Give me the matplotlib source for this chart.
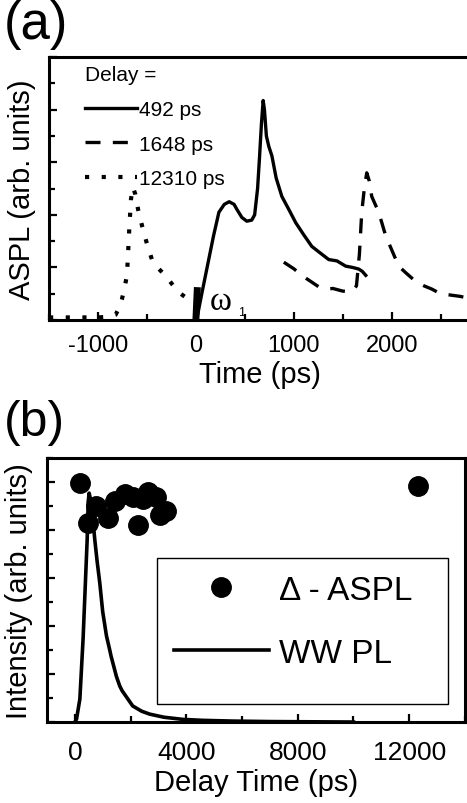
import matplotlib
matplotlib.use("Agg")
import matplotlib.pyplot as plt
from matplotlib.patches import Rectangle
from matplotlib.ticker import MultipleLocator, NullFormatter

plt.rcParams['font.family'] = ['Liberation Sans', 'DejaVu Sans']
plt.rcParams['axes.unicode_minus'] = False

# (a) ASPL traces for three delays
solid_x = [10, 60, 120, 180, 235, 290, 340, 390, 420, 470, 520, 570, 600, 630, 650, 670, 687,
           700, 720, 745, 776, 820, 878, 950, 1020, 1100, 1184, 1270, 1357, 1440, 1530, 1600,
           1663, 1700, 1735]
solid_y = [0.05, 1.0, 2.1, 3.2, 4.1, 4.4, 4.5, 4.4, 4.2, 3.9, 3.76, 3.8, 4.0, 5.0, 6.2, 7.5, 8.35,
           8.0, 7.0, 6.6, 6.25, 5.4, 4.7, 4.2, 3.7, 3.25, 2.8, 2.55, 2.3, 2.25, 2.05, 2.0,
           1.94, 1.85, 1.7]

dash_x = [898, 1000, 1100, 1184, 1260, 1327, 1400, 1500, 1592, 1640, 1670, 1694, 1720, 1745,
          1770, 1796, 1867, 1939, 2071, 2143, 2250, 2330, 2408, 2500, 2600, 2700, 2760]
dash_y = [2.2, 1.95, 1.65, 1.44, 1.25, 1.18, 1.2, 1.1, 1.08, 1.3, 2.5, 4.1, 5.0, 5.6,
          5.3, 4.7, 4.1, 3.2, 2.05, 1.8, 1.45, 1.3, 1.18, 1.0, 0.95, 0.9, 0.85]

dot_x = [-1500, -1400, -1300, -1200, -1100, -1000, -900, -820, -780, -755, -730, -704, -680,
         -663, -643, -620, -590, -551, -500, -449, -380, -306, -240, -173, -100, -41, 0]
dot_y = [0.1, 0.1, 0.1, 0.1, 0.1, 0.1, 0.12, 0.2, 0.5, 0.8, 1.2, 1.7, 3.5,
         4.6, 5.05, 4.8, 4.2, 3.6, 2.9, 2.3, 1.95, 1.67, 1.35, 1.05, 0.85, 0.73, 0.7]

pulse_x = [0, 15]
pulse_y = [0, 1.25]

delay_labels = ['492 ps', '1648 ps', '12310 ps']

# (b) delta-ASPL points and WW PL trace
aspl_x = [180, 477, 776, 1194, 1433, 1791, 2090, 2268, 2448, 2627, 2925, 3045, 3283, 12333]
aspl_y = [9.97, 8.3, 9.0, 8.5, 9.2, 9.5, 9.4, 8.2, 9.3, 9.6, 9.4, 8.65, 8.8, 9.86]

ww_x = [0, 60, 180, 297, 394, 442, 480, 513, 560, 620, 716, 800, 895, 1000, 1134, 1253, 1300,
        1492, 1612, 1700, 2077, 2400, 2686, 3200, 3880, 4600, 5670, 7000, 8500, 10000]
ww_y = [0, 0.12, 0.96, 3.5, 6.25, 7.6, 9.2, 9.55, 9.3, 8.8, 7.6, 6.7, 5.8, 4.6, 3.6, 3.0, 2.75,
        1.9, 1.5, 1.3, 0.67, 0.45, 0.33, 0.2, 0.11, 0.07, 0.04, 0.02, 0.01, 0.0]

fig = plt.figure(figsize=(4.67, 8.04), dpi=100)
ax1 = fig.add_axes([0.105, 0.6007, 0.9015, 0.327])
ax2 = fig.add_axes([0.1006, 0.1007, 0.895, 0.328])

for ax in (ax1, ax2):
    for sp in ax.spines.values():
        sp.set_linewidth(2.2)
    ax.tick_params(which='both', direction='in', width=1.6, labelsize=17, pad=10)
    ax.tick_params(which='major', length=6)
    ax.tick_params(which='minor', length=4)
    ax.yaxis.set_major_formatter(NullFormatter())

# ---- panel (a)
ax1.plot(solid_x, solid_y, color='black', lw=2.4, label=delay_labels[0])
ax1.plot(dash_x, dash_y, color='black', lw=2.4, ls=(0, (4.5, 3.7)), label=delay_labels[1])
ax1.plot(dot_x, dot_y, color='black', lw=3.0, ls=(0, (1, 3)), label=delay_labels[2])
ax1.plot(pulse_x, pulse_y, color='black', lw=5, solid_capstyle='butt')
ax1.text(255, 0.72, 'ω', family='Liberation Serif', fontsize=24, ha='center', va='center')
ax1.text(470, 0.3, '1', fontsize=9, ha='center', va='center')

ax1.set_xlim(-1500, 2800)
ax1.set_ylim(0, 10)
ax1.xaxis.set_major_locator(MultipleLocator(1000))
ax1.xaxis.set_minor_locator(MultipleLocator(500))
ax1.yaxis.set_major_locator(MultipleLocator(2))
ax1.yaxis.set_minor_locator(MultipleLocator(1))
ax1.set_xlabel('Time (ps)', fontsize=21, labelpad=3)
ax1.set_ylabel('ASPL (arb. units)', fontsize=21)
ax1.yaxis.set_label_coords(-0.03, 0.5)

leg1 = ax1.legend(loc='upper left', bbox_to_anchor=(0.04, 1.04), frameon=False, title='Delay =',
                  fontsize=15, title_fontsize=15, handlelength=2.5, handletextpad=0.1,
                  labelspacing=0.75, alignment='left')

# ---- panel (b)
ax2.plot(ww_x, ww_y, color='black', lw=2.6, label='WW PL')
ax2.plot(aspl_x, aspl_y, ls='', marker='o', ms=14, color='black', label='Δ - ASPL')

ax2.set_xlim(-1000, 14000)
ax2.set_ylim(0, 11)
ax2.xaxis.set_major_locator(MultipleLocator(4000))
ax2.xaxis.set_minor_locator(MultipleLocator(2000))
ax2.yaxis.set_major_locator(MultipleLocator(2))
ax2.yaxis.set_minor_locator(MultipleLocator(1))
ax2.tick_params(axis='x', labelsize=19, pad=13)
ax2.set_xlabel('Delay Time (ps)', fontsize=21, labelpad=3)
ax2.set_ylabel('Intensity (arb. units)', fontsize=21)
ax2.yaxis.set_label_coords(-0.034, 0.5)

# legend frame drawn separately, entries placed inside it
ax2.add_patch(Rectangle((0.263, 0.068), 0.696, 0.553, transform=ax2.transAxes,
                        fill=False, edgecolor='black', lw=1.0, zorder=5))
h, l = ax2.get_legend_handles_labels()
leg2 = ax2.legend([h[1], h[0]], [l[1], l[0]], loc='upper left', bbox_to_anchor=(0.263, 0.621),
                  frameon=False, fontsize=24, borderaxespad=0, borderpad=0.5,
                  handlelength=2.85, handletextpad=0.3, labelspacing=0.95)

fig.text(0.008, 1.0, '(a)', fontsize=38, ha='left', va='top')
fig.text(0.008, 0.503, '(b)', fontsize=36, ha='left', va='top')

fig.savefig('out.png', dpi=100)
